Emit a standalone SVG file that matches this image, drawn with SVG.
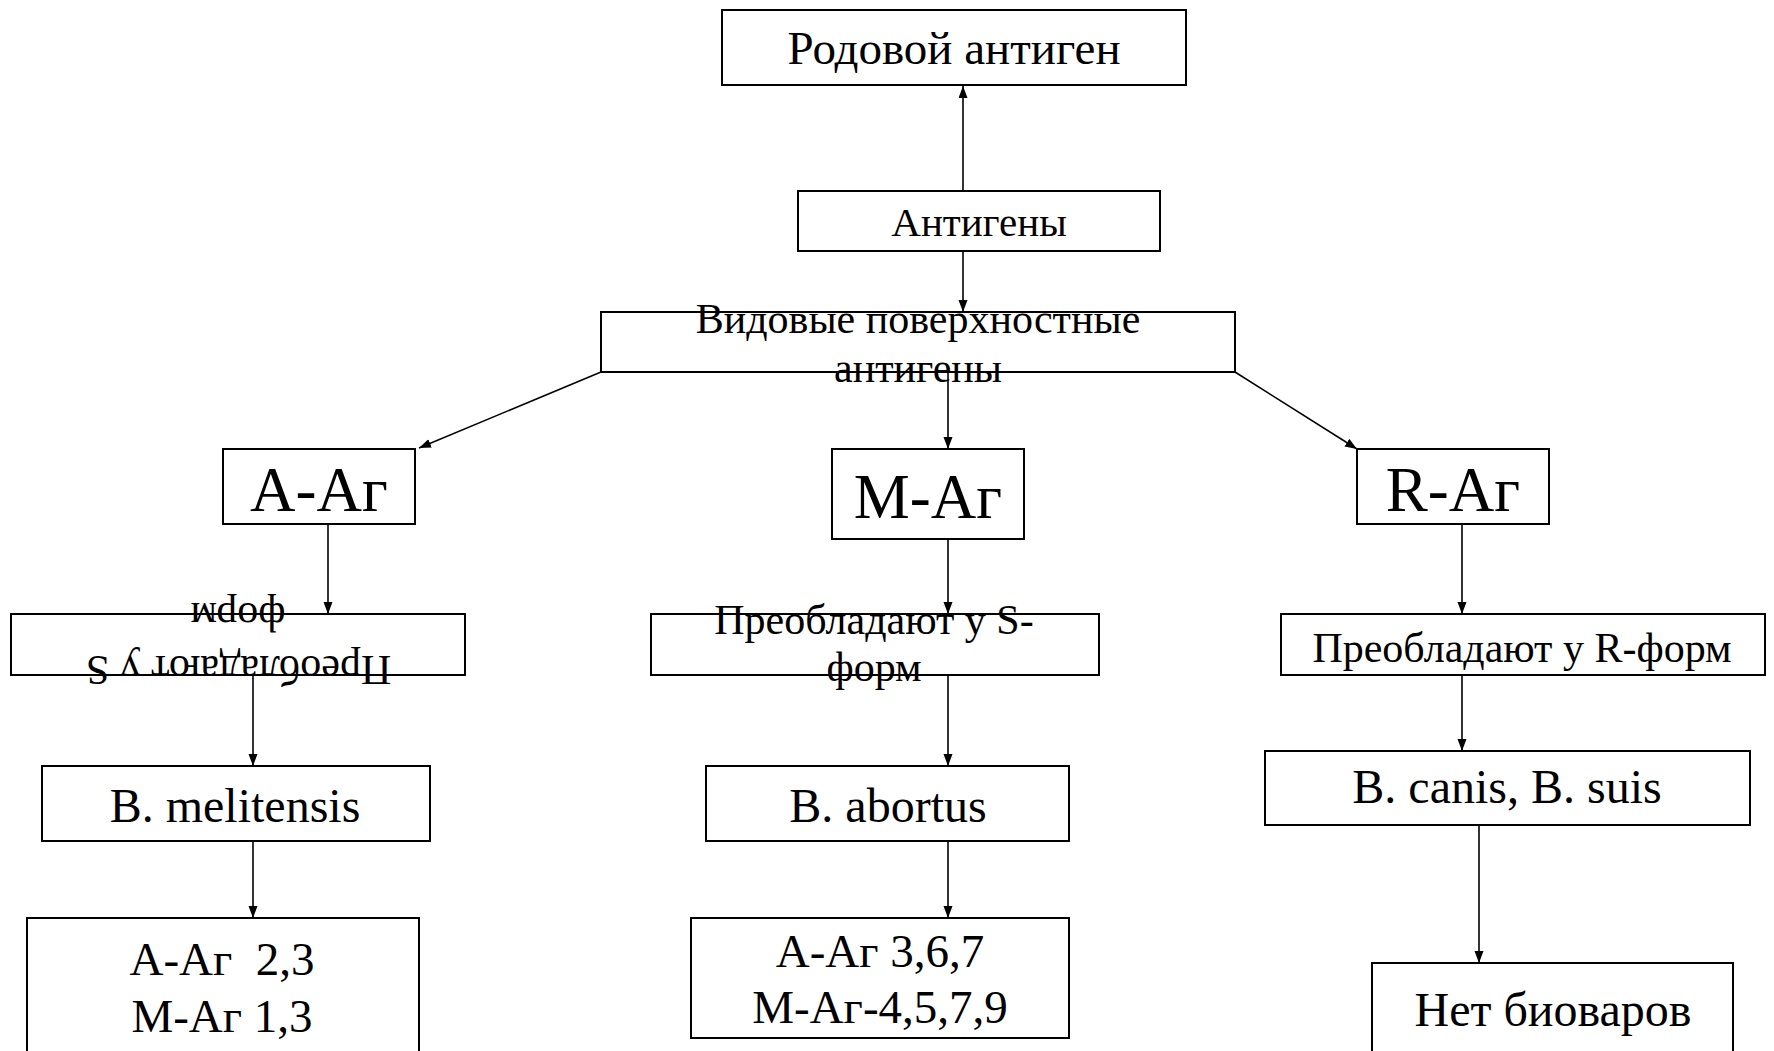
<svg xmlns="http://www.w3.org/2000/svg" width="1774" height="1051" viewBox="0 0 1774 1051">
<style>
rect{fill:#fff;stroke:#000;stroke-width:2}
text{font-family:"Liberation Serif","Times New Roman",serif;fill:#000;text-anchor:middle;white-space:pre}
.c line{stroke:#000;stroke-width:1.6;fill:none;marker-end:url(#ah)}
.f47{font-size:47px}.f41{font-size:41px}.f42{font-size:42px}.f63{font-size:63px}.f48{font-size:48px}
</style>
<defs>
<marker id="ah" markerUnits="userSpaceOnUse" markerWidth="13" markerHeight="10" refX="12" refY="4.5" orient="auto">
<path d="M0,0 L12,4.5 L0,9 z" fill="#000"/>
</marker>
</defs>
<rect x="0" y="0" width="1774" height="1051" style="fill:#fff;stroke:none"/>
<g id="n-rodovoy"><rect x="722" y="10" width="464" height="75"/><text class="f47" x="954" y="64">Родовой антиген</text></g>
<g id="n-antigeny"><rect x="798" y="191" width="362" height="60"/><text class="f41" x="979" y="236">Антигены</text></g>
<g id="n-vidovye"><rect x="601" y="312" width="634" height="60"/><text class="f42" x="918" y="333">Видовые поверхностные</text><text class="f42" x="918" y="382">антигены</text></g>
<g id="n-aag"><rect x="223" y="449" width="192" height="75"/><text class="f63" x="319" y="511">А-Аг</text></g>
<g id="n-mag"><rect x="832" y="449" width="192" height="90"/><text class="f63" x="928" y="518">М-Аг</text></g>
<g id="n-rag"><rect x="1357" y="449" width="192" height="75"/><text class="f63" x="1453" y="511">R-Аг</text></g>
<g id="n-pr-left"><rect x="11" y="614" width="454" height="61"/><text class="f42" x="238.5" y="656" transform="rotate(180 238.5 656)">Преобладают у S</text><text class="f42" x="238" y="603" transform="rotate(180 238 603)">форм</text></g>
<g id="n-pr-mid"><rect x="651" y="614" width="448" height="61"/><text class="f42" x="874" y="634">Преобладают у S-</text><text class="f42" x="874" y="681">форм</text></g>
<g id="n-pr-right"><rect x="1281" y="614" width="484" height="61"/><text class="f42" x="1522" y="662">Преобладают у R-форм</text></g>
<g id="n-melitensis"><rect x="42" y="766" width="388" height="75"/><text class="f48" x="235" y="822">B. melitensis</text></g>
<g id="n-abortus"><rect x="706" y="766" width="363" height="75"/><text class="f48" x="888" y="822">B. abortus</text></g>
<g id="n-canis"><rect x="1265" y="751" width="485" height="74"/><text class="f48" x="1507" y="803">B. canis, B. suis</text></g>
<g id="n-bl"><rect x="27" y="918" width="392" height="150"/><text class="f47" x="222" y="975">А-Аг  2,3</text><text class="f47" x="222" y="1032">М-Аг 1,3</text></g>
<g id="n-bm"><rect x="691" y="918" width="378" height="120"/><text class="f47" x="880" y="967">А-Аг 3,6,7</text><text class="f47" x="880" y="1023">М-Аг-4,5,7,9</text></g>
<g id="n-br"><rect x="1372" y="963" width="361" height="110"/><text class="f48" x="1553" y="1026">Нет биоваров</text></g>
<g id="connectors" class="c">
<line x1="963" y1="191" x2="963" y2="86"/>
<line x1="963" y1="251" x2="963" y2="312"/>
<line x1="601" y1="372" x2="419" y2="448"/>
<line x1="948" y1="372" x2="948" y2="449"/>
<line x1="1235" y1="372" x2="1357" y2="449"/>
<line x1="328" y1="524" x2="328" y2="614"/>
<line x1="253" y1="675" x2="253" y2="766"/>
<line x1="253" y1="841" x2="253" y2="918"/>
<line x1="948" y1="539" x2="948" y2="614"/>
<line x1="948" y1="675" x2="948" y2="766"/>
<line x1="948" y1="841" x2="948" y2="918"/>
<line x1="1462" y1="524" x2="1462" y2="614"/>
<line x1="1462" y1="675" x2="1462" y2="751"/>
<line x1="1479" y1="825" x2="1479" y2="963"/>
</g>
</svg>
